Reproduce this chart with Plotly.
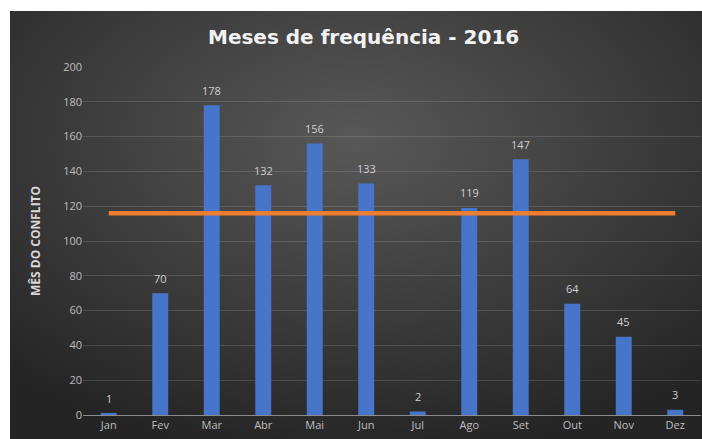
import base64
import plotly.graph_objects as go

months = ["Jan", "Fev", "Mar", "Abr", "Mai", "Jun", "Jul", "Ago", "Set", "Out", "Nov", "Dez"]
counts = [1, 70, 178, 132, 156, 133, 2, 119, 147, 64, 45, 3]
reference_line = [116] * 12
y_ticks = [0, 20, 40, 60, 80, 100, 120, 140, 160, 180, 200]

W, H = 702, 439
ML, MR, MT, MB = 83, 1, 67, 24
PW, PH = W - ML - MR, H - MT - MB

BW, BH = W - 10, H - 11
svg = f"""<svg xmlns='http://www.w3.org/2000/svg' width='{BW}' height='{BH}' preserveAspectRatio='none'>
<defs><radialGradient id='g' cx='50%' cy='30%' r='75%'>
<stop offset='0%' stop-color='#585858'/><stop offset='100%' stop-color='#242424'/>
</radialGradient></defs>
<rect width='{BW}' height='{BH}' fill='url(#g)'/></svg>"""
bg_src = "data:image/svg+xml;base64," + base64.b64encode(svg.encode()).decode()

def px_x(p):
    return (p - ML) / PW

def px_y(p):
    return (H - MB - p) / PH

fig = go.Figure()
fig.add_trace(go.Bar(
    x=months, y=counts,
    marker=dict(color="#4675CA", line=dict(width=0)),
    hoverinfo="x+y",
))
fig.add_trace(go.Scatter(
    x=months, y=reference_line, mode="lines",
    line=dict(color="#ED7D31", width=4.5),
    hoverinfo="y",
))

annotations = [
    dict(text="<b>Meses de frequência - 2016</b>", xref="paper", yref="paper",
         x=px_x(363), y=px_y(37), showarrow=False, xanchor="center", yanchor="middle",
         font=dict(family="DejaVu Sans, sans-serif", size=20, color="#f2f2f2")),
    dict(text="<b>MÊS DO CONFLITO</b>", xref="paper", yref="paper",
         x=px_x(35), y=px_y(241), showarrow=False, textangle=-90,
         xanchor="center", yanchor="middle",
         font=dict(family="Open Sans, sans-serif", size=12, color="#d9d9d9")),
]
for m, v in zip(months, counts):
    annotations.append(dict(
        text=str(v), x=m, y=v, xref="x", yref="y", showarrow=False,
        yanchor="middle", yshift=15,
        font=dict(family="Open Sans, sans-serif", size=11, color="#d0d0d0"),
    ))

fig.update_layout(
    width=W, height=H,
    margin=dict(l=ML, r=MR, t=MT, b=MB),
    paper_bgcolor="white",
    plot_bgcolor="rgba(0,0,0,0)",
    showlegend=False,
    bargap=0.69,
    font=dict(family="Open Sans, sans-serif", size=11, color="#bfbfbf"),
    images=[dict(
        source=bg_src, xref="paper", yref="paper",
        x=px_x(10), y=px_y(11),
        sizex=px_x(702) - px_x(10), sizey=px_y(11) - px_y(439),
        xanchor="left", yanchor="top", sizing="stretch", layer="below",
    )],
    annotations=annotations,
    xaxis=dict(
        showgrid=False, showline=True, linecolor="#8c8c8c", linewidth=1,
        ticks="", tickfont=dict(size=11, color="#bfbfbf"),
    ),
    yaxis=dict(
        range=[0, 200], tickvals=y_ticks, showgrid=True,
        gridcolor="rgba(255,255,255,0.13)", gridwidth=1,
        zeroline=False, showline=False, ticks="",
        tickfont=dict(size=11, color="#bfbfbf"),
    ),
)

fig.write_html(
    "out.html",
    config={"displayModeBar": False},
    post_script="document.body.style.margin='0';document.body.style.overflow='hidden';",
)
